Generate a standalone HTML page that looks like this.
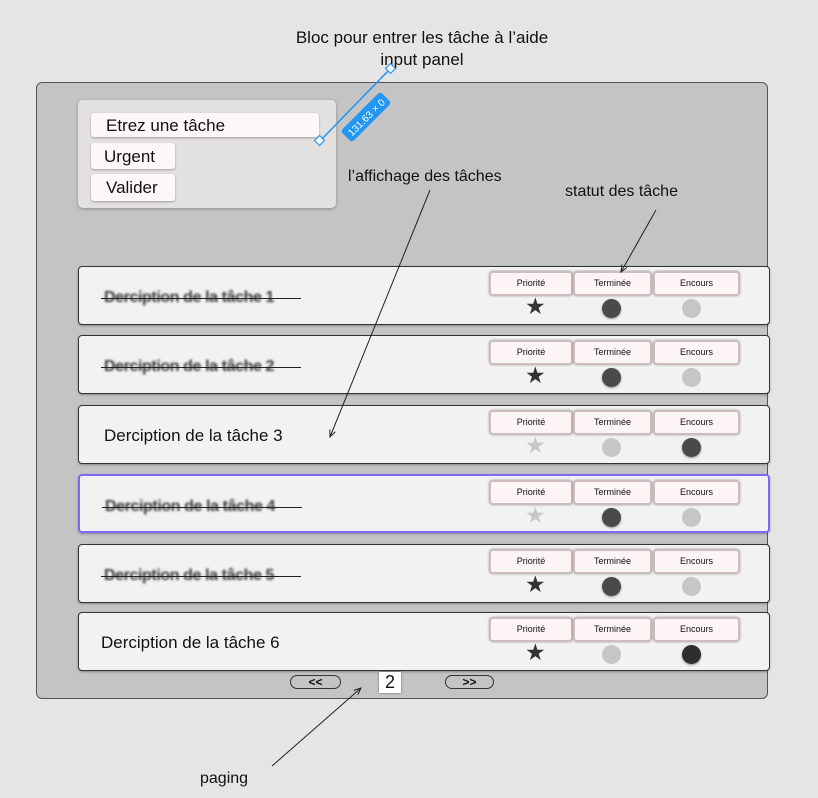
<!DOCTYPE html>
<html><head><meta charset="utf-8"><style>
*{box-sizing:border-box;margin:0;padding:0}
body{width:818px;height:798px;background:#e5e5e5;position:relative;overflow:hidden;font-family:"Liberation Sans",sans-serif;color:#111}
.a{position:absolute}
.outer{left:36px;top:82px;width:732px;height:617px;background:#c4c4c4;border:1px solid #555;border-radius:6px}
.row{left:78px;width:692px;height:59px;background:#f2f2f2;border:1px solid #333;border-radius:4px;box-shadow:0 1px 2px rgba(0,0,0,.3)}
.row.sel{border:2px solid #7a6cf2}
.btn{top:4px;height:25px;background:#fdf5f5;border:2px solid #cdbdbd;border-radius:4px;font-size:9px;text-align:center;line-height:20px;box-shadow:0 0 2px rgba(0,0,0,.35)}
.t{left:25px;top:22px;font-size:16px;color:#3a3a3a;filter:blur(1px);font-weight:bold;letter-spacing:-0.4px}
.t.c{filter:none;color:#111;font-size:17px;top:20px;font-weight:normal;letter-spacing:0}
.st{left:22px;top:31px;width:200px;height:1px;background:#222}
.star{left:446px;top:28px;font-size:23px;line-height:23px}
.dot{top:32px;width:19px;height:19px;border-radius:50%}
.d{background:#4a4a4a;box-shadow:0 1px 2px rgba(0,0,0,.4)}
.l{background:#c6c6c6}
.ib{background:#fdf8f8;border-radius:3px;box-shadow:0 1px 2px rgba(0,0,0,.3);font-size:17px}
</style></head><body>
<div class="a" style="left:0;top:27px;width:844px;text-align:center;font-size:17px;line-height:22px">Bloc pour entrer les tâche à l’aide<br>input panel</div>
<div class="a outer"></div>
<div class="a" style="left:78px;top:100px;width:258px;height:108px;background:#e3e0e0;border-radius:5px;box-shadow:0 1px 3px rgba(0,0,0,.3)"></div>
<div class="a ib" style="left:91px;top:113px;width:228px;height:24px;padding:3px 0 0 15px">Etrez une tâche</div>
<div class="a ib" style="left:91px;top:143px;width:84px;height:26px;padding:4px 0 0 13px">Urgent</div>
<div class="a ib" style="left:91px;top:174px;width:84px;height:27px;padding:4px 0 0 15px">Valider</div>
<div class="a" style="left:348px;top:168px;font-size:16px">l’affichage des tâches</div>
<div class="a" style="left:565px;top:183px;font-size:16px">statut des tâche</div>
<div class="a" style="left:200px;top:770px;font-size:16px">paging</div>

<div class="a row" style="top:266px"><div class="a t">Derciption de la tâche 1</div><div class="a st"></div>
<div class="a btn" style="left:410px;width:84px">Priorité</div><div class="a btn" style="left:494px;width:79px">Terminée</div><div class="a btn" style="left:574px;width:87px">Encours</div>
<div class="a star" style="color:#333">★</div><div class="a dot d" style="left:523px"></div><div class="a dot l" style="left:603px"></div></div>

<div class="a row" style="top:335px"><div class="a t">Derciption de la tâche 2</div><div class="a st"></div>
<div class="a btn" style="left:410px;width:84px">Priorité</div><div class="a btn" style="left:494px;width:79px">Terminée</div><div class="a btn" style="left:574px;width:87px">Encours</div>
<div class="a star" style="color:#333">★</div><div class="a dot d" style="left:523px"></div><div class="a dot l" style="left:603px"></div></div>

<div class="a row" style="top:405px"><div class="a t c">Derciption de la tâche 3</div>
<div class="a btn" style="left:410px;width:84px">Priorité</div><div class="a btn" style="left:494px;width:79px">Terminée</div><div class="a btn" style="left:574px;width:87px">Encours</div>
<div class="a star" style="color:#c8c8c8">★</div><div class="a dot l" style="left:523px"></div><div class="a dot d" style="left:603px"></div></div>

<div class="a row sel" style="top:474px"><div class="a t">Derciption de la tâche 4</div><div class="a st"></div>
<div class="a btn" style="left:409px;width:84px">Priorité</div><div class="a btn" style="left:493px;width:79px">Terminée</div><div class="a btn" style="left:573px;width:87px">Encours</div>
<div class="a star" style="color:#c8c8c8;left:445px">★</div><div class="a dot d" style="left:522px"></div><div class="a dot l" style="left:602px"></div></div>

<div class="a row" style="top:544px"><div class="a t">Derciption de la tâche 5</div><div class="a st"></div>
<div class="a btn" style="left:410px;width:84px">Priorité</div><div class="a btn" style="left:494px;width:79px">Terminée</div><div class="a btn" style="left:574px;width:87px">Encours</div>
<div class="a star" style="color:#333">★</div><div class="a dot d" style="left:523px"></div><div class="a dot l" style="left:603px"></div></div>

<div class="a row" style="top:612px"><div class="a t c" style="left:22px">Derciption de la tâche 6</div>
<div class="a btn" style="left:410px;width:84px">Priorité</div><div class="a btn" style="left:494px;width:79px">Terminée</div><div class="a btn" style="left:574px;width:87px">Encours</div>
<div class="a star" style="color:#333">★</div><div class="a dot l" style="left:523px"></div><div class="a dot d" style="left:603px;background:#2e2e2e"></div></div>

<div class="a" style="left:290px;top:675px;width:51px;height:14px;border:1px solid #333;border-radius:8px;font-size:12px;text-align:center;line-height:12px;font-weight:bold">&lt;&lt;</div>
<div class="a" style="left:445px;top:675px;width:49px;height:14px;border:1px solid #333;border-radius:8px;font-size:12px;text-align:center;line-height:12px;font-weight:bold">&gt;&gt;</div>
<div class="a" style="left:379px;top:672px;width:22px;height:21px;background:#fff;box-shadow:0 0 2px rgba(0,0,0,.5);font-size:18px;text-align:center;line-height:21px">2</div>

<svg class="a" style="left:0;top:0" width="818" height="798">
<defs><marker id="m" markerWidth="8" markerHeight="8" refX="7" refY="4" orient="auto"><path d="M0,1 L7,4 L0,7" fill="none" stroke="#222" stroke-width="1"/></marker></defs>
<line x1="430" y1="190" x2="330" y2="437" stroke="#222" stroke-width="1" marker-end="url(#m)"/>
<line x1="656" y1="210" x2="621" y2="272" stroke="#222" stroke-width="1" marker-end="url(#m)"/>
<line x1="272" y1="766" x2="361" y2="688" stroke="#222" stroke-width="1" marker-end="url(#m)"/>
<line x1="320" y1="141" x2="390" y2="69" stroke="#2196f3" stroke-width="1.5"/>
<rect x="316" y="137" width="7" height="7" fill="#fff" stroke="#2196f3" stroke-width="1.2" transform="rotate(45 319.5 140.5)"/>
<rect x="387" y="65" width="7" height="7" fill="#fff" stroke="#2196f3" stroke-width="1.2" transform="rotate(45 390.5 68.5)"/>
<g transform="translate(366 117) rotate(-45)"><rect x="-28" y="-8" width="56" height="16" rx="3" fill="#2196f3"/><text x="0" y="4" fill="#fff" font-size="10" text-anchor="middle" font-family="Liberation Sans">131.63 × 0</text></g>
</svg>
</body></html>
